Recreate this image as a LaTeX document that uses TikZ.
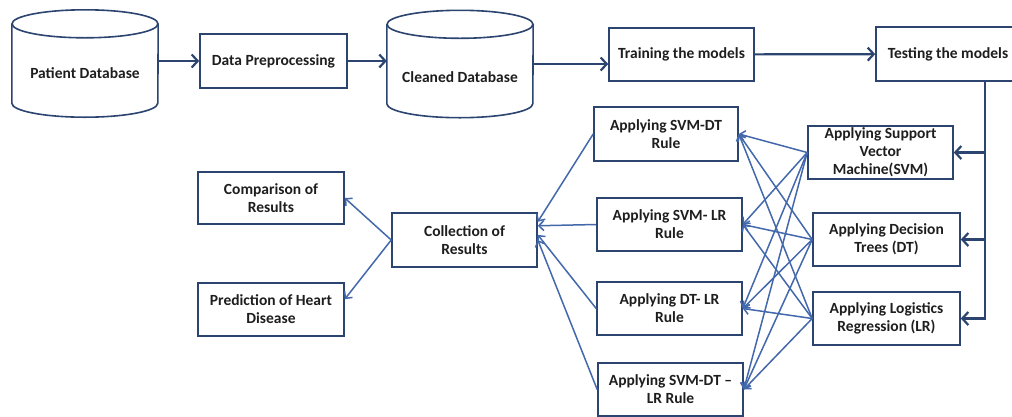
\documentclass[tikz,border=0pt]{standalone}
\usepackage{fontspec}
\setmainfont{Carlito}
\usetikzlibrary{arrows.meta}
\definecolor{boxblue}{HTML}{2C4470}
\definecolor{lineblue}{HTML}{4468AC}
\definecolor{txtgray}{HTML}{1E1E1E}

\begin{document}
\begin{tikzpicture}[x=1pt,y=-1pt,
    txt/.style={text=txtgray, font=\fontsize{15.5}{18}\selectfont\bfseries},
    box/.style={txt, draw=boxblue, line width=1.6pt, align=center, inner sep=0pt,
                minimum width=145pt, minimum height=53pt},
    dbase/.style={minimum width=146pt, minimum height=107pt, inner sep=0pt},
    cyl/.style={draw=boxblue, line width=1.6pt},
    flow/.style={draw=boxblue, line width=2.2pt, -{Straight Barb[length=6pt,width=13pt]}},
    link/.style={draw=lineblue, line width=1.5pt, -{Straight Barb[length=5pt,width=10pt]}}]
\clip (0,0) rectangle (1012,416);
\fill[white] (0,0) rectangle (1012,416);

% top row
\node[dbase, label={[txt, yshift=-10pt]center:Patient Database}] (pdb) at (85,63.5) {};
\node[box, minimum width=147pt, minimum height=54pt] (prep) at (273.5,61) {Data Preprocessing};
\node[dbase, label={[txt, yshift=-13pt]center:Cleaned Database}] (cdb) at (460,64) {};
\node[box] (train) at (681.5,54.5) {Training the models};
\node[box, minimum width=144pt, minimum height=54pt] (test) at (948,54) {Testing the models};

\foreach \db in {pdb,cdb}{
  \draw[cyl] ([yshift=-14pt]\db.north west) -- ([yshift=14pt]\db.south west)
    arc[start angle=180, end angle=360, x radius=73pt, y radius=14pt]
    -- ([yshift=-14pt]\db.north east);
  \draw[cyl] ([yshift=-14pt]\db.north) ellipse[x radius=73pt, y radius=14pt];
}

% models
\node[box] (svm) at (880.5,152.5) {Applying Support\\Vector\\Machine(SVM)};
\node[box, minimum width=147pt] (dt) at (886.5,239.5) {Applying Decision\\Trees (DT)};
\node[box, minimum width=147pt] (lr) at (886.5,318.5) {Applying Logistics\\Regression (LR)};

% rules
\node[box, minimum width=144pt, minimum height=54pt] (svmdt) at (666,134) {Applying SVM-DT\\Rule};
\node[box] (svmlr) at (669.5,224.5) {Applying SVM- LR\\Rule};
\node[box] (dtlr) at (669.5,308.5) {Applying DT- LR\\Rule};
\node[box] (svmdtlr) at (670.5,389.5) {Applying SVM-DT --\\LR Rule};

% results
\node[box, minimum height=54pt] (coll) at (464.5,240) {Collection of\\Results};
\node[box, minimum width=146pt, minimum height=52pt] (comp) at (271,198) {Comparison of\\Results};
\node[box, minimum width=146pt] (pred) at (271,309.5) {Prediction of Heart\\Disease};

\coordinate (bus) at (985,318);

\draw[flow] (pdb.east |- prep.west) -- (prep.west);
\draw[flow] (prep.east) -- (prep.east -| cdb.west);
\draw[flow] (cdb.east) -- (cdb.east -| train.west);
\draw[flow] (train) -- (test);
\draw[flow] (test.south -| bus) |- (lr);
\draw[flow] (svm -| bus) -- (svm);
\draw[flow] (dt -| bus) -- (dt);

\foreach \m in {svm,dt,lr}
  \foreach \r in {svmdt,svmlr,dtlr,svmdtlr}
    \draw[link] (\m.west) -- (\r.east);

\foreach \r/\a in {svmdt/14,svmlr/11,dtlr/4,svmdtlr/0}
  \draw[link] (\r.west) -- (coll.\a);

\draw[link] (coll.west) -- (comp.east);
\draw[link] (coll.west) -- (pred.8);
\end{tikzpicture}
\end{document}
